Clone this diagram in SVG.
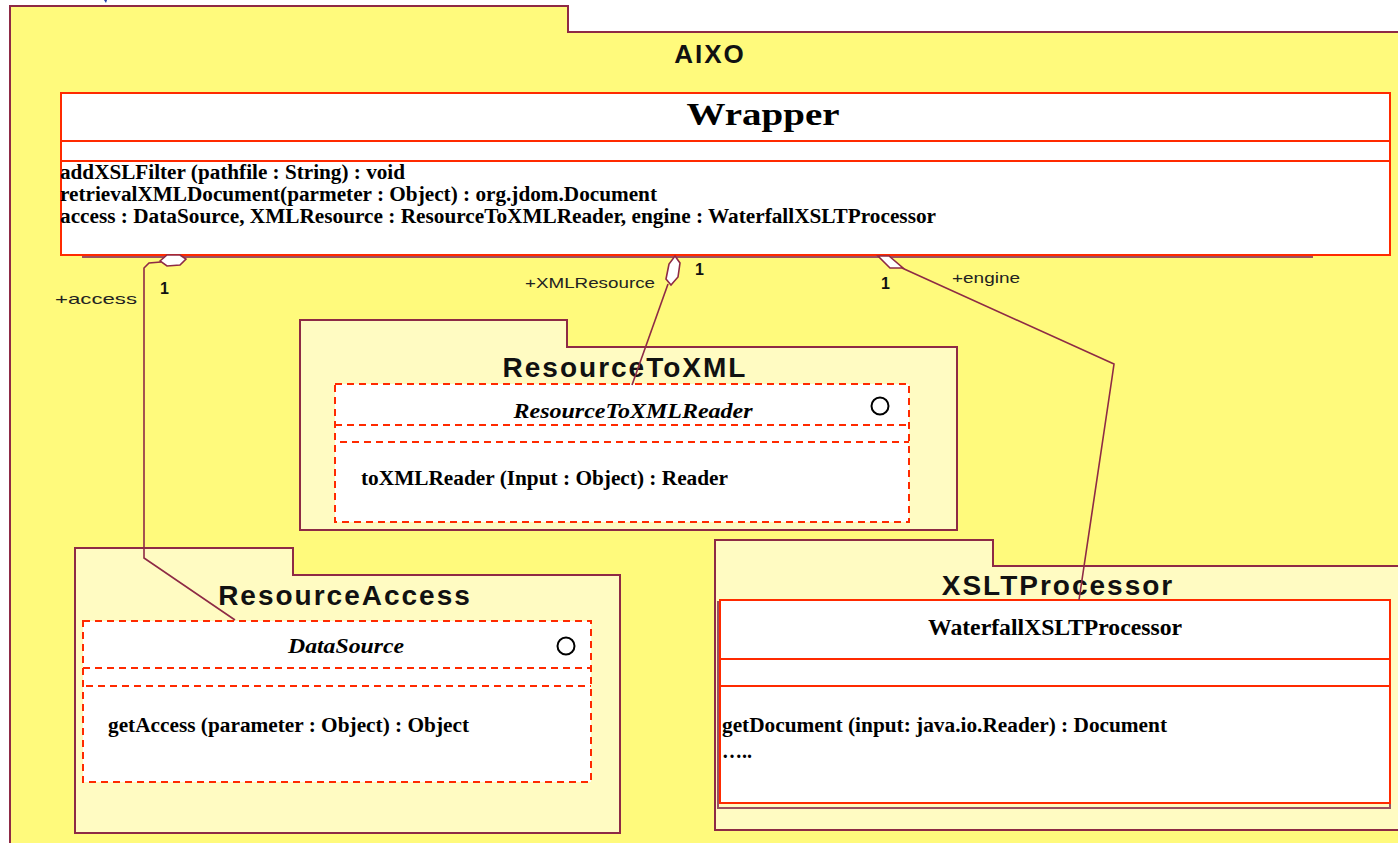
<svg xmlns="http://www.w3.org/2000/svg" width="1398" height="843" viewBox="0 0 1398 843">
  <defs>
    <style>
      .pkg-outer { fill: #FFFA7C; stroke: #8E2A45; stroke-width: 2; }
      .pkg { fill: #FFFBC2; stroke: #8E2A45; stroke-width: 2; }
      .cls { fill: #FFFFFF; stroke: #FF2A00; stroke-width: 2; }
      .cls-dash { fill: #FFFFFF; stroke: #FF2A00; stroke-width: 2; stroke-dasharray: 7 5; }
      .sep { stroke: #FF2A00; stroke-width: 2; fill: none; }
      .sep-dash { stroke: #FF2A00; stroke-width: 2; fill: none; stroke-dasharray: 7 5; }
      .shadow { stroke: #9A5060; stroke-width: 2; fill: none; }
      .pkg-title { font-family: "Liberation Sans", Arial, sans-serif; font-weight: bold; fill: #111; letter-spacing: 2px; }
      .cls-title { font-family: "Liberation Serif", "Times New Roman", serif; font-weight: bold; fill: #000; }
      .cls-iface { font-family: "Liberation Serif", "Times New Roman", serif; font-weight: bold; font-style: italic; fill: #000; }
      .op { font-family: "Liberation Serif", "Times New Roman", serif; font-weight: bold; font-size: 20px; fill: #000; }
      .role { font-family: "Liberation Sans", Arial, sans-serif; font-size: 15px; fill: #222; }
      .mult { font-family: "Liberation Sans", Arial, sans-serif; font-size: 16px; font-weight: bold; fill: #111; }
      .link { stroke: #8E2A45; stroke-width: 1.6; fill: none; }
      .diamond { fill: #FFFFFF; stroke: #8E2A45; stroke-width: 1.6; }
      .iface-icon { fill: #FFFFFF; stroke: #000; stroke-width: 2; }
    </style>
  </defs>

  <!-- page background -->
  <rect x="0" y="0" width="1398" height="843" fill="#FFFFFF"/>
  <path d="M104 0 L107 0 L106 3 Z" fill="#1E3FA8"/>

  <!-- outer package -->
  <g id="pkg-aixo">
    <path class="pkg-outer" d="M10 6 H568 V32 H1402 V850 H10 Z"/>
    <text class="pkg-title" x="710" y="63" font-size="26" text-anchor="middle">AIXO</text>
  </g>

  <!-- Wrapper class -->
  <g id="cls-wrapper">
    <line class="shadow" x1="82" y1="257" x2="1313" y2="257"/>
    <rect class="cls" x="61" y="93" width="1329" height="162"/>
    <line class="sep" x1="61" y1="141" x2="1390" y2="141"/>
    <line class="sep" x1="61" y1="161" x2="1390" y2="161"/>
    <text class="cls-title" x="763" y="125" font-size="31" text-anchor="middle" textLength="153" lengthAdjust="spacingAndGlyphs">Wrapper</text>
    <text class="op" x="60" y="179" textLength="345" lengthAdjust="spacingAndGlyphs">addXSLFilter (pathfile : String) : void</text>
    <text class="op" x="60" y="201" textLength="597" lengthAdjust="spacingAndGlyphs">retrievalXMLDocument(parmeter : Object) : org.jdom.Document</text>
    <text class="op" x="60" y="223" textLength="876" lengthAdjust="spacingAndGlyphs">access : DataSource, XMLResource : ResourceToXMLReader, engine : WaterfallXSLTProcessor</text>
  </g>

  <!-- ResourceToXML package -->
  <g id="pkg-resourcetoxml">
    <path class="pkg" d="M300 320 H567 V347 H957 V530 H300 Z"/>
    <text class="pkg-title" x="625" y="377" font-size="28" text-anchor="middle">ResourceToXML</text>
  </g>
  <g id="cls-resourcetoxmlreader">
    <rect class="cls-dash" x="335" y="384" width="574" height="138"/>
    <line class="sep-dash" x1="335" y1="425" x2="909" y2="425"/>
    <line class="sep-dash" x1="340" y1="442" x2="909" y2="442"/>
    <text class="cls-iface" x="633" y="418" font-size="22" text-anchor="middle" textLength="239" lengthAdjust="spacingAndGlyphs">ResourceToXMLReader</text>
    <circle class="iface-icon" cx="880" cy="406" r="8.5"/>
    <text class="op" x="361" y="485" textLength="367" lengthAdjust="spacingAndGlyphs">toXMLReader (Input : Object) : Reader</text>
  </g>

  <!-- ResourceAccess package -->
  <g id="pkg-resourceaccess">
    <path class="pkg" d="M75 548 H293 V575 H620 V833 H75 Z"/>
    <text class="pkg-title" x="345" y="605" font-size="28" text-anchor="middle">ResourceAccess</text>
  </g>
  <g id="cls-datasource">
    <rect class="cls-dash" x="83" y="621" width="508" height="161"/>
    <line class="sep-dash" x1="83" y1="668" x2="591" y2="668"/>
    <line class="sep-dash" x1="86" y1="686" x2="591" y2="686"/>
    <text class="cls-iface" x="346" y="653" font-size="22" text-anchor="middle" textLength="116" lengthAdjust="spacingAndGlyphs">DataSource</text>
    <circle class="iface-icon" cx="566" cy="646" r="8.5"/>
    <text class="op" x="108" y="732" textLength="361" lengthAdjust="spacingAndGlyphs">getAccess (parameter : Object) : Object</text>
  </g>

  <!-- XSLTProcessor package -->
  <g id="pkg-xsltprocessor">
    <path class="pkg" d="M715 540 H993 V566 H1402 V830 H715 Z"/>
    <text class="pkg-title" x="1058" y="595" font-size="28" text-anchor="middle">XSLTProcessor</text>
  </g>
  <g id="cls-waterfall">
    <rect class="shadow" x="718" y="602" width="672" height="206" fill="#FFFFFF"/>
    <rect class="cls" x="720" y="600" width="670" height="203"/>
    <line class="sep" x1="720" y1="659" x2="1390" y2="659"/>
    <line class="sep" x1="720" y1="686" x2="1390" y2="686"/>
    <text class="cls-title" x="1055" y="635" font-size="23" text-anchor="middle" textLength="254" lengthAdjust="spacingAndGlyphs">WaterfallXSLTProcessor</text>
    <text class="op" x="722" y="732" textLength="445" lengthAdjust="spacingAndGlyphs">getDocument (input: java.io.Reader) : Document</text>
    <text class="op" x="722" y="758">…..</text>
  </g>

  <!-- aggregation links from Wrapper -->
  <g id="connectors">
    <g id="link-access">
      <polyline class="link" points="161,262 149,263 144,268 144,558 235,620"/>
      <path class="diamond" d="M160 261 L167 255 L180 255 L186 259 L180 265 L167 266 Z"/>
      <text class="role" x="55" y="304" textLength="82" lengthAdjust="spacingAndGlyphs">+access</text>
      <text class="mult" x="160" y="294">1</text>
    </g>
    <g id="link-xmlresource">
      <polyline class="link" points="668,284 632,385"/>
      <path class="diamond" d="M675 256 L680 263 L678 277 L671 285 L666 279 L669 264 Z"/>
      <text class="role" x="525" y="288" textLength="130" lengthAdjust="spacingAndGlyphs">+XMLResource</text>
      <text class="mult" x="695" y="275">1</text>
    </g>
    <g id="link-engine">
      <polyline class="link" points="902,268 1114,364 1112,378 1079,600"/>
      <path class="diamond" d="M878 256 L889 256 L903 268 L890 268 Z"/>
      <text class="role" x="952" y="283" textLength="68" lengthAdjust="spacingAndGlyphs">+engine</text>
      <text class="mult" x="881" y="289">1</text>
    </g>
  </g>
</svg>
